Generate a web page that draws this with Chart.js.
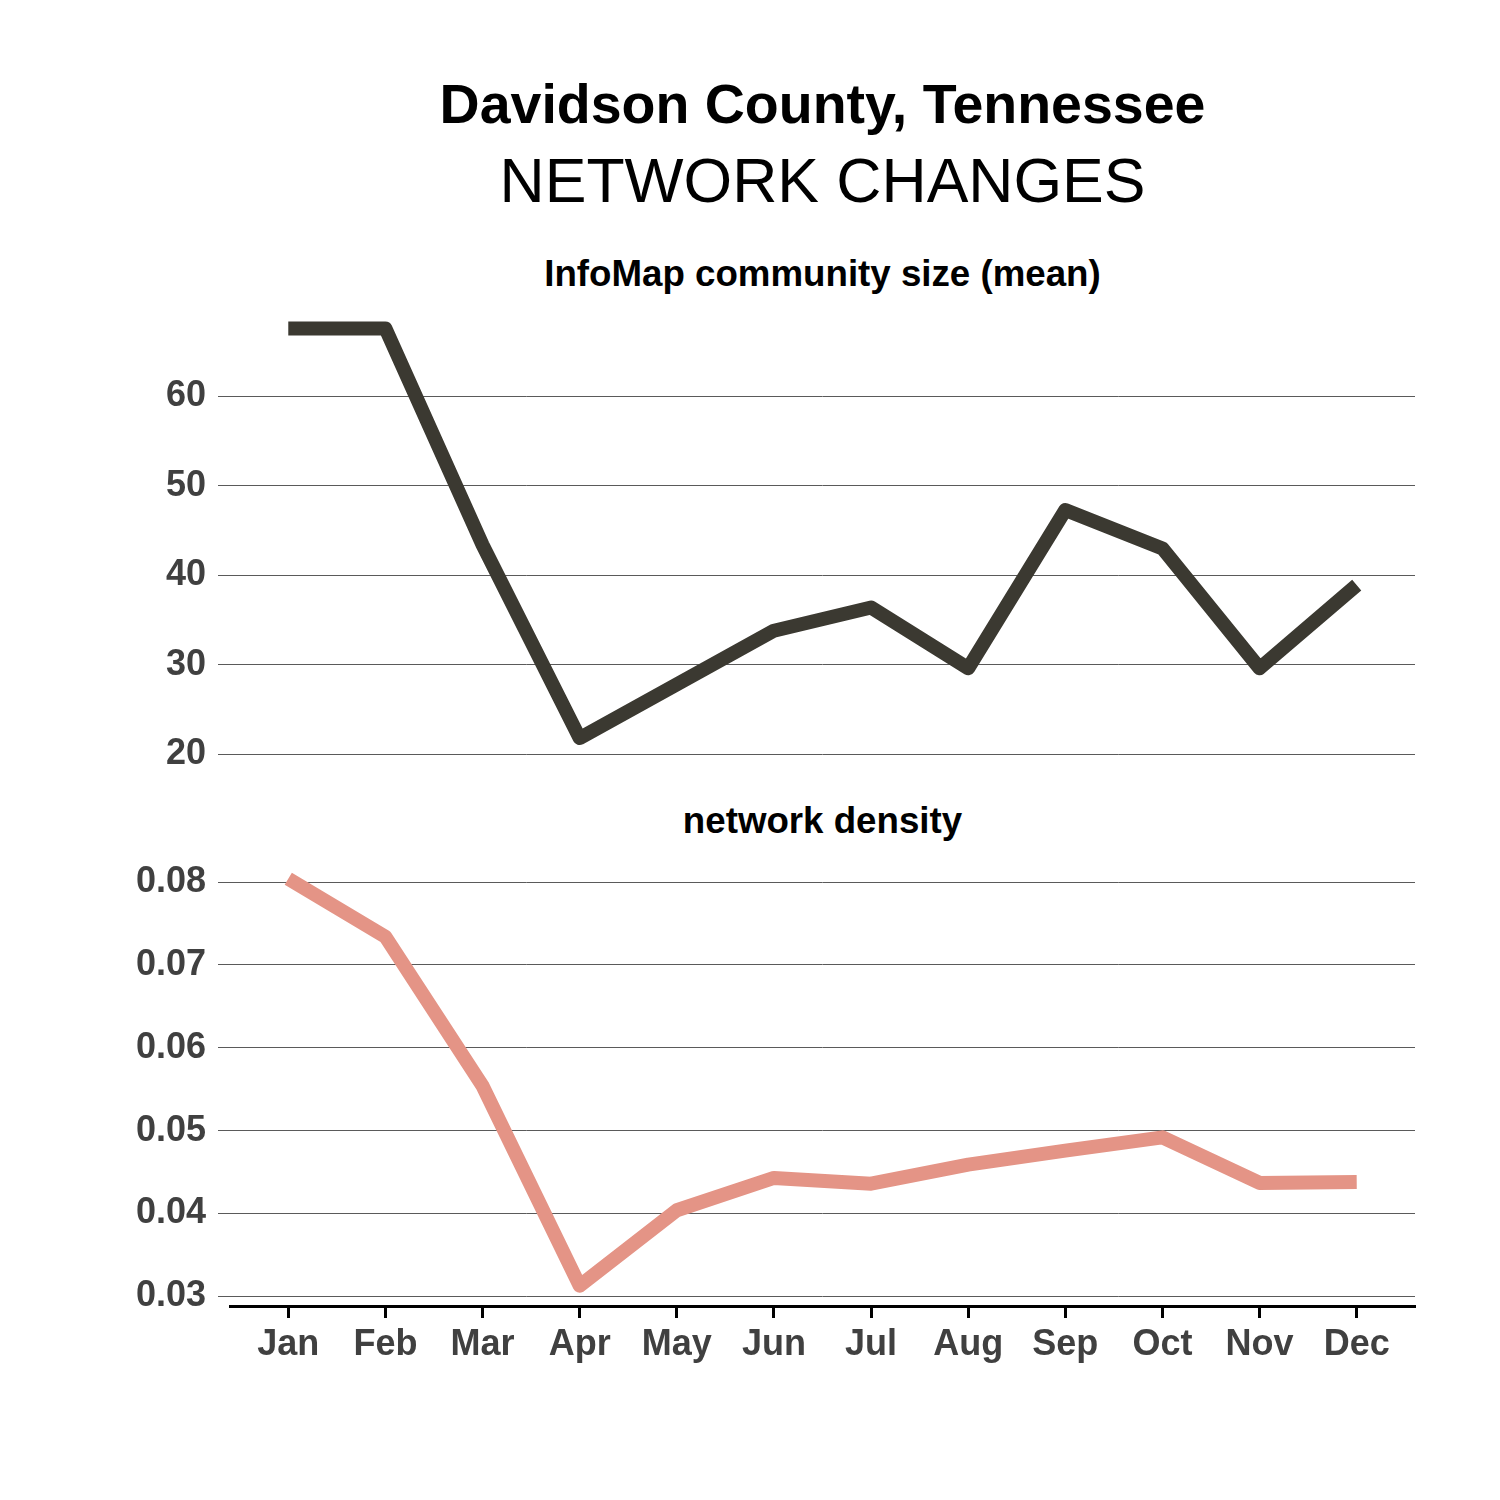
<!DOCTYPE html>
<html>
<head>
<meta charset="utf-8">
<script src="https://cdn.jsdelivr.net/npm/chart.js@4"></script>
<style>
  html, body { margin:0; padding:0; background:#fff; }
  body { width:1500px; height:1500px; position:relative; overflow:hidden; font-family:"Liberation Sans", Arial, sans-serif; }
  .t { position:absolute; left:230px; width:1185px; text-align:center; color:#000; white-space:nowrap; }
  #c1wrap { position:absolute; left:0; top:290px; width:1500px; height:480px; }
  #c2wrap { position:absolute; left:0; top:840px; width:1500px; height:540px; }
</style>
</head>
<body>
<div class="t" style="top:71px; height:66px; line-height:66px; font-size:55.5px; font-weight:bold;">Davidson County, Tennessee</div>
<div class="t" style="top:144px; height:72px; line-height:72px; font-size:62.5px;">NETWORK CHANGES</div>
<div class="t" style="top:252px; height:44px; line-height:44px; font-size:36.7px; font-weight:bold;">InfoMap community size (mean)</div>
<div class="t" style="top:799px; height:44px; line-height:44px; font-size:36.7px; font-weight:bold;">network density</div>
<div id="c1wrap"><canvas id="c1" width="1500" height="480"></canvas></div>
<div id="c2wrap"><canvas id="c2" width="1500" height="540"></canvas></div>
<script>
const months = ["Jan","Feb","Mar","Apr","May","Jun","Jul","Aug","Sep","Oct","Nov","Dec"];
const communitySize = [67.6, 67.6, 43.4, 21.8, 27.8, 33.8, 36.4, 29.6, 47.3, 43.0, 29.6, 38.9];
const networkDensity = [0.0804, 0.0734, 0.0554, 0.0313, 0.0404, 0.0443, 0.0436, 0.0459, 0.0476, 0.0492, 0.0437, 0.0438];
const sizeTicks = [20, 30, 40, 50, 60];
const densityTicks = [0.03, 0.04, 0.05, 0.06, 0.07, 0.08];

const tickFont = { family: "Liberation Sans, Arial, sans-serif", size: 36, weight: "bold" };
const tickColor = "#404040";
const gridColor = "#5a5a5a";

function noPad(s) { s.paddingTop = 0; s.paddingBottom = 0; s.paddingLeft = 0; s.paddingRight = 0; }

function xScale(show) {
  return {
    type: "linear",
    min: -0.6,
    max: months.length - 1 + 0.6,
    display: show,
    afterBuildTicks: s => { s.ticks = months.map((m, i) => ({ value: i })); },
    afterFit: s => { if (show) s.height = 74; noPad(s); },
    ticks: { callback: v => months[v], font: tickFont, color: tickColor, padding: 5, maxRotation: 0, autoSkip: false },
    grid: { display: true, drawOnChartArea: false, drawTicks: true, tickLength: 12, tickWidth: 3, tickColor: "#000" },
    border: { display: true, color: "#000", width: 3 }
  };
}
function yScale(min, max, ticks, fmt) {
  return {
    type: "linear",
    min: min, max: max,
    afterBuildTicks: s => { s.ticks = ticks.map(v => ({ value: v })); },
    afterFit: s => { s.width = 230; noPad(s); },
    ticks: { callback: fmt, font: tickFont, color: tickColor, padding: 12 },
    grid: { color: gridColor, lineWidth: 1, tickLength: 12, drawTicks: true },
    border: { display: false }
  };
}
function makeChart(id, data, color, yMin, yMax, ticks, fmt, showX, padTop, padBottom) {
  return new Chart(document.getElementById(id), {
    type: "line",
    data: {
      datasets: [{
        data: data.map((v, i) => ({ x: i, y: v })),
        borderColor: color,
        borderWidth: 14,
        borderCapStyle: "butt",
        borderJoinStyle: "round",
        pointRadius: 0,
        tension: 0,
        fill: false
      }]
    },
    options: {
      responsive: false,
      animation: false,
      layout: { padding: { left: 0, right: 85, top: padTop, bottom: padBottom } },
      plugins: { legend: { display: false }, title: { display: false }, tooltip: { enabled: false } },
      scales: { x: xScale(showX), y: yScale(yMin, yMax, ticks, fmt) }
    }
  });
}
makeChart("c1", communitySize, "#3b3931", 19.51, 69.89, sizeTicks, v => String(v), false, 18, 11.5);
makeChart("c2", networkDensity, "#e49486", 0.02885, 0.08286, densityTicks, v => v.toFixed(2), true, 18.3, 0);
</script>
</body>
</html>
